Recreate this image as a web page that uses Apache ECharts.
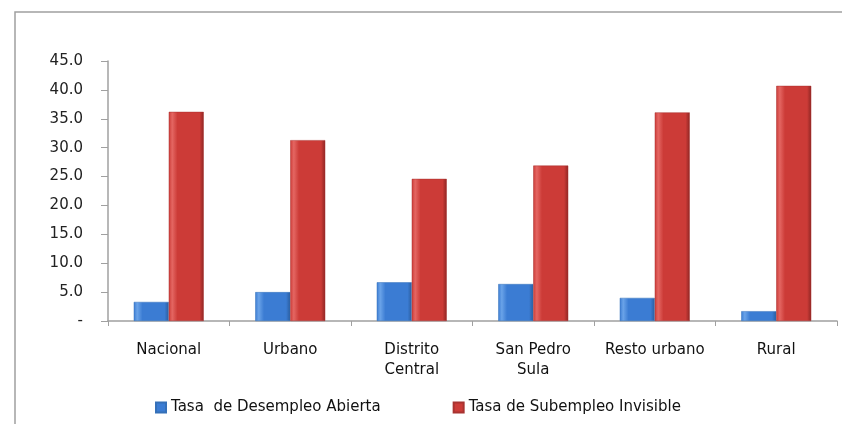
<!DOCTYPE html>
<html>
<head>
<meta charset="utf-8">
<script src="https://cdn.jsdelivr.net/npm/echarts@6/dist/echarts.min.js"></script>
<style>
  html, body { margin: 0; padding: 0; background: #fff; }
  #chart { width: 842px; height: 424px; }
</style>
</head>
<body>
<div id="chart"></div>
<script>
// categories and values
var categories = ['Nacional', 'Urbano', 'Distrito\nCentral', 'San Pedro\nSula', 'Resto urbano', 'Rural'];
var desempleoAbierta = [3.3, 5.0, 6.7, 6.4, 4.0, 1.7];
var subempleoInvisible = [36.2, 31.3, 24.6, 26.9, 36.1, 40.7];
var seriesNames = ['Tasa  de Desempleo Abierta', 'Tasa de Subempleo Invisible'];

var font = 'DejaVu Sans';

function bevel(dark, mid, light) {
  return new echarts.graphic.LinearGradient(0, 0, 1, 0, [
    { offset: 0, color: mid },
    { offset: 0.1, color: light },
    { offset: 0.25, color: mid },
    { offset: 0.88, color: mid },
    { offset: 1, color: dark }
  ]);
}

var chart = echarts.init(document.getElementById('chart'));
chart.setOption({
  animation: false,
  backgroundColor: '#fff',
  textStyle: { fontFamily: font },
  graphic: [{
    type: 'rect',
    shape: { x: 15, y: 12, width: 900, height: 500 },
    style: { fill: 'none', stroke: '#a0a0a0', lineWidth: 1.5 }
  }],
  legend: {
    bottom: 4,
    left: 150,
    icon: 'rect',
    itemWidth: 10,
    itemHeight: 10,
    itemGap: 72,
    textStyle: { fontFamily: font, fontSize: 15, color: '#111' },
    data: [
      { name: seriesNames[0], itemStyle: { color: '#3b7cd3' } },
      { name: seriesNames[1], itemStyle: { color: '#cc3b37' } }
    ]
  },
  grid: { left: 108, right: 5, top: 61, bottom: 103 },
  xAxis: {
    type: 'category',
    data: categories,
    axisLine: { lineStyle: { color: '#a0a0a0', width: 1.5 } },
    axisTick: { show: true, alignWithLabel: false, length: 5, lineStyle: { color: '#a0a0a0' } },
    axisLabel: { fontFamily: font, fontSize: 15, color: '#111', margin: 19, lineHeight: 20, interval: 0 }
  },
  yAxis: {
    type: 'value',
    min: 0,
    max: 45,
    interval: 5,
    axisLine: { show: true, lineStyle: { color: '#a0a0a0', width: 1.5 } },
    axisTick: { show: true, length: 7, lineStyle: { color: '#a0a0a0' } },
    splitLine: { show: false },
    axisLabel: {
      fontFamily: font, fontSize: 15, color: '#222', margin: 25,
      formatter: function (v) { return v === 0 ? '-' : v.toFixed(1); }
    }
  },
  series: [
    {
      name: seriesNames[0],
      type: 'bar',
      data: desempleoAbierta,
      barWidth: 35,
      barGap: '0%',
      itemStyle: {
        color: bevel('#2a5d9e', '#3b7cd3', '#6aa3e8'),
        borderColor: '#3570b8', borderWidth: 0.5
      }
    },
    {
      name: seriesNames[1],
      type: 'bar',
      data: subempleoInvisible,
      barWidth: 35,
      barGap: '0%',
      itemStyle: {
        color: bevel('#8e2623', '#cc3b37', '#e46662'),
        borderColor: '#a83330', borderWidth: 0.5
      }
    }
  ]
});
</script>
</body>
</html>
